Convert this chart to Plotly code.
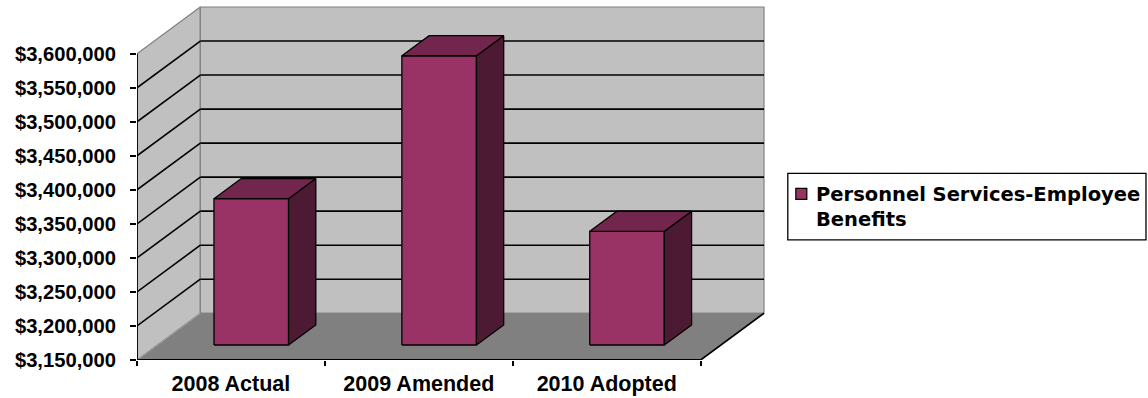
import plotly.graph_objects as go

# ---- data -------------------------------------------------------------
CATEGORIES = ["2008 Actual", "2009 Amended", "2010 Adopted"]
SERIES_NAME = "Personnel Services-Employee<br>Benefits"
VALUES = [3_365_000, 3_575_000, 3_317_000]
Y_TICKS = [3_150_000 + 50_000 * k for k in range(10)]

# ---- colours ----------------------------------------------------------
BAR_FRONT = "#993366"
BAR_TOP = "#73264D"
BAR_SIDE = "#4D1A33"
WALL = "#C0C0C0"
FLOOR = "#808080"
EDGE_GRAY = "#808080"

# ---- 3-D box geometry (oblique projection) ----------------------------
W, H = 1148, 398
PX_PER_CAT = 187.8              # pixels per category slot
PX_PER_USD = 306 / 450_000      # pixels per dollar on the front plane
LEFT = 137                      # front value axis, px
FLOOR_Y = 360                   # front floor edge, px
DEPTH_PX = (63.3, 46.7)         # back-wall offset (right, up), px
BAR_W = 0.397                   # bar width in category units
BAR_D0, BAR_D1 = 0.321, 0.751   # bar front / back depth fractions

Y_MIN, Y_MAX = Y_TICKS[0], Y_TICKS[-1]
DX = DEPTH_PX[0] / PX_PER_CAT
DY = DEPTH_PX[1] / PX_PER_USD
X0, X1 = -0.5, len(CATEGORIES) - 0.5

x_range = [X0, X1 + DX + 3 / PX_PER_CAT]
y_range = [Y_MIN, Y_MAX + DY + 1 / PX_PER_USD]
plot_w = (x_range[1] - x_range[0]) * PX_PER_CAT
plot_h = (y_range[1] - y_range[0]) * PX_PER_USD
m_l = LEFT
m_b = H - FLOOR_Y
m_r = W - m_l - plot_w
m_t = H - m_b - plot_h


def proj(x, v, d):
    """Project (category x, value v, depth d in 0..1) onto the front plane."""
    return x + d * DX, v + d * DY


fig = go.Figure()


def poly(pts, fill, line_color="black", lw=1.3):
    xs, ys = zip(*[proj(*p) for p in pts + [pts[0]]])
    fig.add_trace(go.Scatter(
        x=xs, y=ys, mode="lines", fill="toself", fillcolor=fill,
        line=dict(color=line_color, width=lw), hoverinfo="skip",
        showlegend=False))


def seg(p, q, color="black", lw=1.6):
    xs, ys = zip(proj(*p), proj(*q))
    fig.add_trace(go.Scatter(
        x=xs, y=ys, mode="lines", line=dict(color=color, width=lw),
        hoverinfo="skip", showlegend=False))


# walls and floor
poly([(X0, Y_MIN, 0), (X0, Y_MIN, 1), (X0, Y_MAX, 1), (X0, Y_MAX, 0)], WALL, EDGE_GRAY, 1.2)
poly([(X0, Y_MIN, 1), (X1, Y_MIN, 1), (X1, Y_MAX, 1), (X0, Y_MAX, 1)], WALL, EDGE_GRAY, 1.2)
poly([(X0, Y_MIN, 0), (X1, Y_MIN, 0), (X1, Y_MIN, 1), (X0, Y_MIN, 1)], FLOOR, EDGE_GRAY, 1.0)
seg((X0, Y_MIN, 0), (X0, Y_MIN, 1), "#A8A8A8", 1.0)

# gridlines on the side wall and back wall
for v in Y_TICKS[1:-1]:
    seg((X0, v, 0), (X0, v, 1), "black", 1.6)
    seg((X0, v, 1), (X1, v, 1), "black", 1.6)

# front edges: value axis, category axis, floor right edge
seg((X0, Y_MIN, 0), (X0, Y_MAX, 0), "black", 1.8)
seg((X0, Y_MIN, 0), (X1, Y_MIN, 0), "black", 1.8)
seg((X1, Y_MIN, 0), (X1, Y_MIN, 1), "black", 1.6)

# bars
for i, v in enumerate(VALUES):
    xl, xr = i - BAR_W / 2, i + BAR_W / 2
    poly([(xl, Y_MIN, BAR_D0), (xr, Y_MIN, BAR_D0), (xr, v, BAR_D0), (xl, v, BAR_D0)], BAR_FRONT)
    poly([(xr, Y_MIN, BAR_D0), (xr, Y_MIN, BAR_D1), (xr, v, BAR_D1), (xr, v, BAR_D0)], BAR_SIDE)
    poly([(xl, v, BAR_D0), (xr, v, BAR_D0), (xr, v, BAR_D1), (xl, v, BAR_D1)], BAR_TOP)

# category axis carrier (labels centred, ticks on slot boundaries)
fig.add_trace(go.Scatter(
    x=CATEGORIES, y=[Y_MIN] * len(CATEGORIES), xaxis="x2", mode="markers",
    marker=dict(opacity=0), hoverinfo="skip", showlegend=False))

TICK_FONT = dict(family="Liberation Sans, Arial, sans-serif", color="black", weight="bold")


# ---- legend box -------------------------------------------------------
def px_x(px):
    return (px - m_l) / plot_w


def px_y(py):
    return (H - m_b - py) / plot_h


fig.add_shape(type="rect", xref="paper", yref="paper",
              x0=px_x(787.5), x1=px_x(1145.5), y0=px_y(240), y1=px_y(173.5),
              line=dict(color="black", width=1.3), fillcolor="white")
fig.add_shape(type="rect", xref="paper", yref="paper",
              x0=px_x(795.5), x1=px_x(806.5), y0=px_y(199.5), y1=px_y(188.5),
              line=dict(color="black", width=1.2), fillcolor=BAR_FRONT)
fig.add_annotation(
    xref="paper", yref="paper", x=px_x(814), y=px_y(181),
    xanchor="left", yanchor="top", align="left", showarrow=False,
    text=SERIES_NAME,
    font=dict(family="DejaVu Sans, sans-serif", size=19.5, color="black", weight="bold"))

fig.update_layout(
    width=W, height=H,
    margin=dict(l=m_l, r=m_r, t=m_t, b=m_b, pad=0, autoexpand=False),
    paper_bgcolor="white", plot_bgcolor="white",
    showlegend=False,
    xaxis=dict(range=x_range, visible=False, fixedrange=True, automargin=False),
    xaxis2=dict(
        type="category", overlaying="x", anchor="y", side="bottom",
        categoryorder="array", categoryarray=CATEGORIES,
        range=x_range, tickson="boundaries", ticks="outside",
        ticklen=5, tickwidth=1.5, tickcolor="black",
        ticklabelstandoff=8, automargin=False,
        showgrid=False, showline=False, zeroline=False,
        tickfont=dict(size=21.5, **TICK_FONT), fixedrange=True),
    yaxis=dict(
        range=y_range, tickvals=Y_TICKS, tickformat="$,.0f",
        ticks="outside", ticklen=6, tickwidth=1.5, tickcolor="black",
        ticklabelstandoff=10, automargin=False,
        showgrid=False, showline=False, zeroline=False,
        tickfont=dict(size=20.2, **TICK_FONT), fixedrange=True),
)

fig.write_html("out.html")
